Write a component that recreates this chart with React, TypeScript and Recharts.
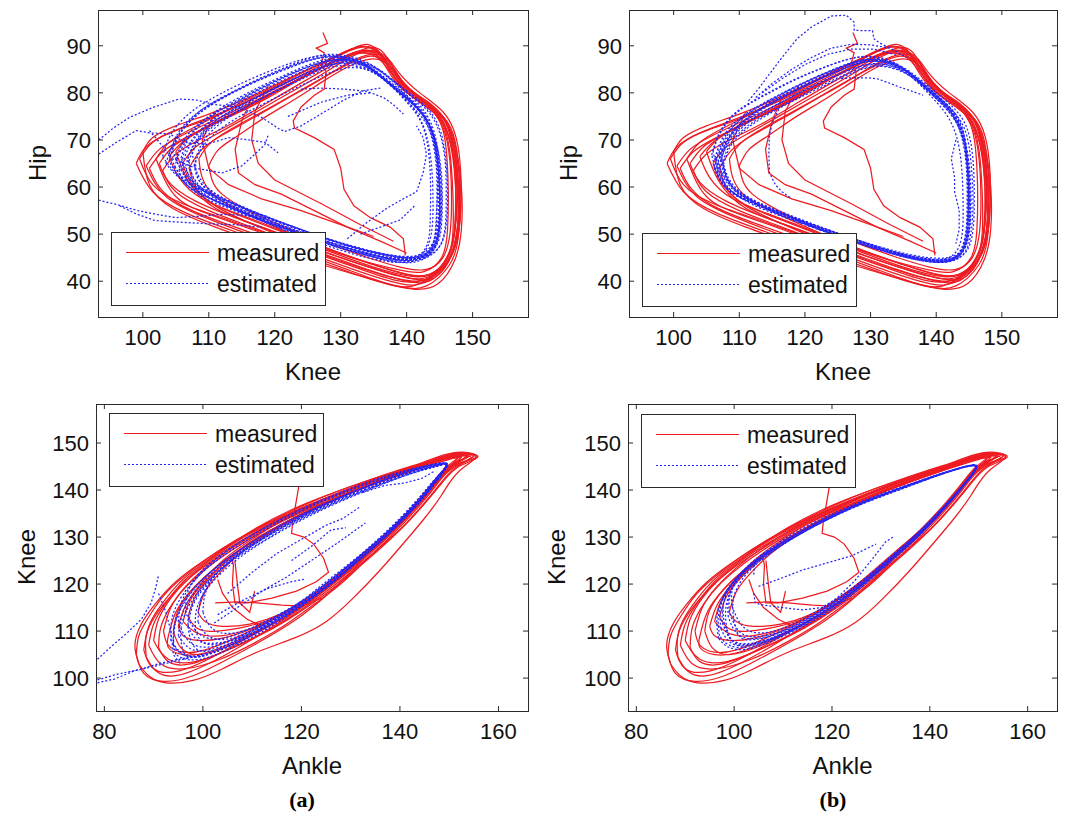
import React from 'react';
import { LineChart, Line, XAxis, YAxis } from 'recharts';

type P = [number, number];

// ---------- tick labels ----------
const kneeTicksTop = [100, 110, 120, 130, 140, 150];
const hipTicks = [40, 50, 60, 70, 80, 90];
const ankleTicks = [80, 100, 120, 140, 160];
const kneeTicksBottom = [100, 110, 120, 130, 140, 150];

// ---------- Hip vs Knee : measured (same in (a) and (b)) ----------
const measuredHipKnee: P[][] = [
  [[99.5,66],[101.5,69.5],[105,72],[110,74.5],[115,78],[120,81.5],[125,85],[129.5,88],[133,89.8],[135.5,89],[137.5,85.5],[140.5,80.5],[144.5,76.5],[146.8,71],[147.8,62],[148,53],[147,46],[144,40.5],[140,40],[134,42.5],[127,46],[120,49.5],[113,53],[106,56.5],[101.5,60.5],[99.5,66]],
  [[102.5,65],[104.5,68.5],[108,71.5],[113,75],[118,78.5],[123,82.5],[128,86],[132.5,88.5],[135.5,88],[137.5,84],[140,80],[143.5,77],[146,72.5],[147.2,64],[147.5,55],[146.8,47],[144.5,42],[141,41],[135,43],[128,46.5],[121,50],[114,53.5],[108,57],[104,61],[102.5,65]],
  [[101,64],[103,67.5],[106.5,70.5],[111.5,74],[117,78],[122.5,82],[127.5,85.8],[132,88.3],[136,87.5],[138,83.5],[141,79],[144.8,75],[146.7,69],[147.6,60],[147.3,51],[146.2,45],[143,40],[139,39.5],[133,42],[126,45.5],[119,49],[112,52.5],[106,56],[102.5,60],[101,64]],
  [[104,66.5],[106,69.5],[109.5,72.5],[114,75.5],[119,79],[124,83],[129,86.5],[133,88.5],[136,87],[138.3,83],[141.5,78.5],[145,74.5],[146.5,68],[147,59],[147,50],[146,44.5],[143.5,41.5],[140,41.5],[134,44],[128,47],[121.5,50.5],[115,54],[109,57.5],[105.5,62],[104,66.5]],
  [[106,65],[108,68.5],[111.5,71.5],[116,75],[121,79],[126,83],[130.5,86.8],[134,88.8],[137,87],[139,83],[142,79],[145.5,75],[147.3,70],[148,61],[147.8,52],[146.8,45.5],[144.5,41],[141,40.5],[135.5,42.5],[129,45.5],[122,49],[116,52.5],[111,56],[107.5,60.5],[106,65]],
  [[100,67.5],[101.5,70.5],[105,73],[110,75.5],[116,79],[122,83],[127.5,86.5],[131.5,89.3],[134.5,89.5],[136.8,86.5],[139,82],[142.5,78],[145.8,74],[147.5,67],[148.2,58],[147.8,49],[146.5,43.5],[143,39],[138.5,39],[132,41.5],[125,44.5],[118,48],[111,51.5],[104.5,55.5],[101,60.5],[100,67.5]],
  [[108.5,66],[110,69],[113,72],[117.5,75.5],[122,79],[127,83],[131,86],[134.5,87.8],[137.2,86],[139.2,82],[142.2,78.5],[145,74],[146,68],[146.3,60],[146.2,51],[145.3,45],[142.5,42],[138.5,42.5],[133,44.5],[127,47.5],[121,51],[115.5,54.5],[111,58],[109,62],[108.5,66]],
  [[103,63.5],[105,67],[108.5,70],[113.5,73.5],[119,78],[124.5,82.5],[129.5,86.5],[134,89.5],[136.5,88.5],[138.3,84.5],[141,80],[144,76.5],[146.3,71],[147.5,63],[147.8,54],[147.2,47],[145,42],[141.5,40],[136,41.5],[129.5,44.5],[123,48],[116.5,51.5],[110,55],[105,59],[103,63.5]],
  [[105,67.5],[107,70.5],[110.5,73.5],[115,76.5],[120.5,80.5],[126,84.5],[131,88],[134.5,89],[137,87.5],[139,84],[142,80],[145.5,76],[147.5,70.5],[148.2,63],[148.2,55],[147.5,48],[145.5,43],[142,40.5],[136.5,42],[130,45],[123.5,48.5],[117,52],[111,55.5],[107,61],[105,67.5]],
  [[100.5,64.5],[102.5,68],[106,71],[111,74.3],[117,78.3],[123,82.5],[128.5,86.3],[132.5,88.8],[135.5,88.5],[137.8,85],[140.5,80.5],[144,77],[146.5,72],[147.6,64],[147.6,55],[146.8,47.5],[144.5,42],[141,39],[137,39.5],[130,43],[123,46.5],[116,50],[109.5,53.5],[103.5,58],[100.5,64.5]],
  [[102,66],[104,69.5],[107.5,72.5],[112.5,76],[118,79.8],[123.5,83.8],[128.5,87.2],[132.5,89.5],[135.3,89.2],[137.5,85.5],[140.3,81],[143.8,77.5],[146.2,73],[147.4,65.5],[147.9,57],[147.4,49],[145.8,43.5],[142.5,40.2],[138,40.3],[131.5,43.3],[124.5,46.8],[117.5,50.5],[110.5,54],[105,58],[102,66]],
  [[107,64],[108.8,67.8],[112,71],[116.5,74.5],[121.5,78.5],[126.5,82.5],[131,86.3],[134.8,88.2],[137.4,86.6],[139.3,82.6],[142.3,78.7],[145.3,75],[146.8,69.5],[147.4,61],[147.3,52],[146.4,45.8],[144,41.8],[140.5,41.3],[135,43.5],[128.5,46.5],[122,50],[115.5,53.5],[110,57],[107.8,60.5],[107,64]],
  [[99,65],[100.5,68.5],[104,71.5],[109,74.2],[115,77.6],[121,81.6],[126.5,85.5],[131,88.8],[134,90.3],[136.3,88],[138.5,83.5],[141.8,79],[145.3,75.3],[147.3,69.3],[148.3,60],[148.3,51],[147.3,44.5],[144.8,39.5],[141,38.3],[135.5,40],[128.5,43.3],[121.5,46.8],[114,50.5],[106.5,54.5],[101.5,59],[99,65]],
  [[110,64.5],[111.5,68],[114.5,71],[118.5,74.8],[123,78.6],[127.5,82.6],[131.5,85.8],[135,87.2],[137.6,85.4],[139.6,81.6],[142.6,78],[145.2,73.6],[146.4,67.5],[146.8,59],[146.6,50.5],[145.5,45],[143,42.5],[139,43],[133.5,45.3],[127.5,48.3],[121.5,51.5],[116,55],[112,58.5],[110.5,61.5],[110,64.5]],
  [[116.5,79],[115,74],[114,68],[114.5,63],[117,60.5],[121,58.5],[126,55],[131,51.5],[136,48.5],[140,46]],
  [[119,81.5],[117,76],[116.5,70],[117.5,65],[120,61.5],[123.5,59],[127,56.5],[133,52],[138,48.5]],
  [[111,76],[109,70],[110,64],[113,60.5],[118,57.5],[124,55],[130,52],[135,49.5]],
  [[127.3,92.8],[128,90.5],[126.3,89.5],[127.5,88.5],[127,86],[127.8,84.5],[127.5,80.8],[126,79.5],[124,77],[122.8,74],[123,72.5],[126,70.5],[129,68],[130,64],[130.5,59.5],[132,56],[134.5,53.5],[137.5,51.5],[139.5,49],[139.8,45.5]],
];

// ---------- Hip vs Knee : estimated (a) ----------
const estimatedHipKneeA: P[][] = [
  [[105,66],[106.5,70.5],[109.5,74.5],[114,78],[119,81.8],[124,85],[128.5,87],[132.5,86.5],[135.5,84],[138.5,80.5],[141.5,77],[143.8,72],[144.8,65],[145,57],[144.8,50],[143.5,46],[140,44.5],[135,45.5],[129,47.8],[123,50.5],[117,53.5],[111,57],[107,61],[105,66]],
  [[106.5,64.5],[107.8,69],[110.8,73.3],[115.2,77.3],[120.2,81],[125,84.3],[129.3,86.2],[133,85.7],[136,83.5],[139,80],[141.8,76.5],[143.7,71],[144.5,64],[144.6,56],[144.3,49.5],[142.8,45.5],[139.5,44],[134,45],[128,47.5],[122,50.5],[116,54],[110.5,57.5],[107.5,61],[106.5,64.5]],
  [[104,67],[105.5,71.8],[108.5,76],[112.8,79.5],[118,83],[123.3,86],[127.8,87.6],[132,87.1],[135,84.8],[138,81.5],[141.2,78],[143.5,73.5],[144.8,66.5],[145.3,58],[145,51],[144,46.5],[141,44],[136,44.8],[130,47],[124,49.8],[118,52.8],[112,56],[107,60],[104,67]],
  [[107,65.5],[108.3,69.5],[111.3,73.5],[115.8,77.2],[120.8,80.7],[125.5,83.8],[129.8,85.8],[133.5,85.2],[136.5,82.8],[139.5,79],[142.2,75],[144,70],[144.7,62],[144.5,54],[144,48],[142,45],[138.5,44.5],[133,46],[127,48.5],[121,51.5],[115.5,54.5],[111,57.5],[108,61],[107,65.5]],
  [[103.5,65],[105,70.2],[108,75],[112.3,79],[117.5,82.6],[122.8,85.6],[127.3,87.5],[131.5,87],[134.8,85],[137.8,81.5],[140.8,78],[143.3,73.5],[144.5,67],[145,59],[144.9,51.5],[143.8,47],[141,45],[136,45.8],[130,48],[124,51],[118,54],[112,57.5],[106.5,61],[103.5,65]],
  [[108,66],[109.3,70],[112.2,74],[116.6,77.8],[121.6,81.5],[126.3,84.6],[130.5,86.6],[134,86],[137,83.5],[140,79.5],[142.5,75.5],[144.2,70.5],[145,63],[145,55],[144.6,49],[143,45.5],[139,44],[134,45.5],[128,48],[122,51],[116.5,54],[111.5,57.5],[108.5,61.5],[108,66]],
  [[105.5,63.5],[106.6,68.2],[109.4,73],[113.8,77.6],[119.2,81.7],[124.4,85.1],[129,87],[133,86.5],[136,84],[139.2,80.3],[142,76],[144,71.5],[145.2,64],[145.4,56],[145.1,50],[143.7,46],[140.5,44.3],[135.5,45],[129.5,47.3],[123.5,50.2],[117.5,53.3],[111.5,56.8],[107,60],[105.5,63.5]],
  [[104.5,68],[106,72.3],[109,76.5],[113.3,80],[118.5,83.5],[123.6,86.3],[128.2,87.8],[132.2,87],[135.2,84.5],[138.2,81],[141,77.5],[143.4,73],[144.6,66],[144.9,58],[144.7,51],[143.4,46.5],[140.3,45],[135.3,46.2],[129.3,48.5],[123.3,51.3],[117.3,54.5],[111.3,58],[106.5,62.5],[104.5,68]],
  [[106,65],[107.5,69.7],[110.5,74.1],[114.9,78.1],[119.9,81.8],[124.8,84.9],[129.1,86.7],[132.8,86.2],[135.8,83.8],[138.8,80.2],[141.6,76.6],[143.8,72],[144.8,65],[145.1,57],[144.9,50.5],[143.6,46.3],[140.2,44.6],[134.8,45.6],[128.8,48],[122.8,50.8],[116.8,53.8],[111,57],[107,60.8],[106,65]],
  [[103,66.5],[104.3,71.3],[107.2,75.8],[111.5,79.6],[116.8,83.2],[122.2,86.2],[127,87.9],[131.3,87.4],[134.6,85.2],[137.7,81.8],[140.7,78.3],[143.2,73.8],[144.4,67.3],[144.8,59.5],[144.7,52],[143.6,47.3],[140.8,45.3],[135.8,46],[129.8,48.2],[123.8,51.1],[117.8,54.3],[111.8,57.8],[106,61.8],[103,66.5]],
  [[107.5,67],[108.8,71],[111.8,74.8],[116.2,78.3],[121.2,81.9],[125.9,84.9],[130.1,86.9],[133.7,86.4],[136.7,84.1],[139.6,80.6],[142.3,76.8],[144.1,72],[145,65],[145.3,57.3],[145,50.8],[143.6,46.4],[140.4,44.8],[135.2,45.9],[129.2,48.3],[123.2,51.2],[117.2,54.3],[111.8,57.9],[108.6,62],[107.5,67]],
  [[104.8,64.2],[106.2,69],[109.2,73.7],[113.6,77.9],[118.7,81.6],[123.8,84.8],[128.4,86.8],[132.4,86.4],[135.4,84.1],[138.5,80.6],[141.4,77.1],[143.6,72.6],[144.7,65.4],[145,57.5],[144.8,50.8],[143.5,46.5],[140.2,45],[135.3,46],[129.4,48.3],[123.4,51.1],[117.4,54.2],[111.6,57.6],[107,61],[104.8,64.2]],
  [[104,65.5],[105.3,70.5],[108.2,75.3],[112.5,79.3],[117.7,83],[123,86.2],[127.6,88.1],[131.8,87.6],[135.2,85.5],[138.5,82],[141.8,78.5],[144.5,74],[145.8,67.5],[146.2,59.5],[146,52],[144.8,47],[141.5,44.8],[136.2,45.3],[130,47.5],[124,50.2],[118,53.2],[112,56.6],[106.8,60.3],[104,65.5]],
  [[107.8,64.5],[109.2,68.8],[112.3,72.9],[116.8,76.6],[121.8,80.1],[126.5,83.2],[130.6,85.2],[134,84.9],[136.8,82.6],[139.5,78.8],[141.8,74.8],[143.1,69.5],[143.6,62],[143.6,54.5],[143.3,48.8],[141.9,45.6],[138.8,45.3],[133.6,46.6],[127.8,49],[121.8,52],[116,55.2],[111.2,58.4],[108.6,61.2],[107.8,64.5]],
  [[105.8,66.2],[107.1,70.8],[110,75],[114.3,78.8],[119.4,82.4],[124.5,85.6],[128.8,87.4],[132.6,86.9],[135.9,84.7],[139.1,81.2],[142.2,77.6],[144.6,73],[145.8,66],[146,58],[145.8,51],[144.5,46.5],[141.2,44.4],[136,45.2],[130.2,47.4],[124.2,50.3],[118.2,53.4],[112.4,56.8],[108,60.6],[105.8,66.2]],
  [[106.8,66],[108.2,70.2],[111.2,74.3],[115.6,77.9],[120.6,81.4],[125.4,84.4],[129.6,86.3],[133.2,85.9],[136.2,83.6],[139,79.9],[141.4,76],[143,71],[143.8,64],[144,56],[143.7,49.8],[142.4,45.9],[139.3,44.7],[134.3,45.9],[128.4,48.3],[122.4,51.2],[116.6,54.3],[111.3,57.6],[108,61.3],[106.8,66]],
  [[93.3,70],[95.5,72.5],[98,74.8],[101.5,76.9],[105.5,78.7],[108,78.5],[111,77.5],[114.5,77],[118,74.8],[120.5,72.5],[121.5,71.8],[124,73],[127,75.5],[130.5,78.5],[133.5,80.5],[136,81]],
  [[93.3,67],[96,69.5],[99,72],[101,71.5],[104,71.3],[106.5,69.5],[109.5,69],[113,70.5],[116,70],[118.5,69.5],[120.5,67.3]],
  [[93.3,57.2],[96,56.3],[99.2,55],[102,54.2],[105,53.5],[108.5,53.8],[112,54.2],[115.5,54],[119,53.2]],
  [[96.5,56],[99,54.3],[101.8,52.9],[106,52.5],[110,52.2],[114,52],[118,51.5]],
  [[124,80.8],[127,81],[130.6,80.8],[134,80.3],[136.5,79],[138,77.5],[139.5,75.5]],
  [[122,75],[124.5,76.5],[127,78],[131,79.5],[134.5,80]],
  [[131,49],[134,52.5],[137,55.5],[139.5,57.5],[141.5,59],[142.5,63],[143,67],[142.5,70.5],[141.5,73]],
  [[133,50],[136,51.5],[139,53],[141.2,56]],
  [[101,72],[102.5,69.5],[104.5,66],[108,64],[112,63],[115,64.5],[117,67],[118.5,69],[119,71]],
];

// ---------- Hip vs Knee : estimated (b) ----------
const estimatedHipKneeB: P[][] = [
  [[106.5,66],[107.8,70.6],[110.6,74.8],[114.9,78.5],[119.9,82.1],[124.9,85.2],[129.2,87],[133,86.4],[136,84],[139,80.5],[141.8,77],[143.8,72],[144.7,65],[145,57],[144.8,50],[143.6,45.5],[140.5,44],[135.5,45],[130,47.2],[124,50],[118,53],[112,56.3],[108,60.5],[106.5,66]],
  [[107,64.5],[108.2,69],[111.1,73.4],[115.5,77.3],[120.5,81],[125.4,84.2],[129.7,86.1],[133.5,85.7],[136.5,83.5],[139.3,80],[142,76.3],[143.8,71],[144.6,64],[144.7,56],[144.4,49.5],[143,45.3],[140,44.3],[134.5,45.5],[128.5,48],[122.5,51],[116.5,54.3],[111,57.7],[108,61.5],[107,64.5]],
  [[106,67.5],[107.3,72],[110,76.2],[114.2,79.7],[119.2,83.2],[124.3,86.1],[128.6,87.7],[132.5,87.1],[135.5,84.7],[138.5,81.2],[141.5,77.6],[143.6,73],[144.9,66],[145.3,58],[145.1,51],[144,46.3],[141,44.5],[136,45.3],[130.5,47.5],[124.5,50.3],[118.5,53.3],[112.5,56.5],[108,60],[106,67.5]],
  [[107.5,65.5],[108.8,69.5],[111.7,73.4],[116.1,77],[121.1,80.6],[125.8,83.7],[130,85.7],[133.5,85.3],[136.5,83.2],[139.5,79.5],[142.2,75.5],[144,70.5],[144.8,63],[144.9,55],[144.6,49],[143.2,45],[139.8,44],[134.8,45.3],[129,47.7],[123,50.6],[117,53.8],[111.5,57.2],[108.5,61],[107.5,65.5]],
  [[106.2,64],[107.4,68.8],[110.2,73.5],[114.5,77.8],[119.6,81.6],[124.7,84.9],[129,86.8],[132.8,86.2],[135.8,83.9],[138.8,80.3],[141.7,76.7],[143.9,72.3],[144.8,65.5],[145.2,57.5],[145,50.5],[143.8,45.8],[140.8,44.2],[135.8,45.2],[130.2,47.4],[124.2,50.2],[118.2,53.2],[112.2,56.6],[107.8,60.2],[106.2,64]],
  [[107,67],[108.3,71.3],[111.1,75.4],[115.4,79],[120.4,82.5],[125.3,85.4],[129.5,87.1],[133.2,86.5],[136.2,84],[139.2,80.6],[142,77],[143.9,72.5],[144.9,65.5],[145.1,57.5],[144.9,50.8],[143.7,46],[140.6,44.6],[135.6,45.6],[130,47.8],[124,50.7],[118,53.7],[112.3,57],[108.4,61],[107,67]],
  [[106.8,65.2],[108.1,69.8],[110.9,74.2],[115.2,78.1],[120.2,81.7],[125.2,84.8],[129.4,86.7],[133,86.4],[136,84.2],[139,80.8],[141.9,77.2],[143.9,72.8],[144.7,65.8],[144.9,57.8],[144.6,50.6],[143.4,45.6],[140.3,44.3],[135.2,45.3],[129.7,47.6],[123.7,50.5],[117.7,53.5],[111.8,56.9],[108.2,60.8],[106.8,65.2]],
  [[107.3,66.5],[108.6,70.8],[111.4,74.9],[115.7,78.4],[120.7,81.9],[125.6,84.9],[129.8,86.7],[133.3,86],[136.3,83.8],[139.2,80.2],[141.9,76.5],[143.9,71.6],[144.8,64.5],[145,56.5],[144.7,50.2],[143.5,45.8],[140.2,44.5],[135,45.7],[129.5,48],[123.5,50.9],[117.5,54],[111.8,57.3],[108.4,61.2],[107.3,66.5]],
  [[105.8,66.8],[107,71.6],[109.6,76],[113.8,79.6],[118.8,83.1],[124,86],[128.4,87.6],[132.3,87],[135.4,84.6],[138.4,81],[141.3,77.5],[143.5,73],[144.7,66.3],[145.1,58.3],[145,51.2],[143.9,46.6],[141,44.9],[136.2,45.6],[130.7,47.6],[124.7,50.3],[118.7,53.2],[112.7,56.3],[107.9,59.9],[105.8,66.8]],
  [[107.6,64.8],[108.9,69.2],[111.9,73.2],[116.3,76.9],[121.3,80.4],[126,83.5],[130.2,85.5],[133.7,85.1],[136.7,82.9],[139.6,79.3],[142.3,75.3],[144.1,70.3],[144.7,63.3],[144.8,55.3],[144.5,49.2],[143.1,45.2],[139.9,44.3],[134.9,45.6],[129.2,48.1],[123.2,51.1],[117.2,54.3],[111.7,57.6],[108.7,61.1],[107.6,64.8]],
  [[106.3,66.2],[107.6,70.8],[110.4,75],[114.7,78.6],[119.8,82.2],[124.9,85.3],[129.1,87.1],[132.9,86.6],[136.1,84.4],[139.3,80.9],[142.3,77.3],[144.6,72.8],[145.6,65.8],[145.8,57.8],[145.6,50.8],[144.4,46],[141.2,44.2],[136,45],[130.3,47.2],[124.3,50],[118.3,53],[112.3,56.4],[107.9,60.4],[106.3,66.2]],
  [[107.2,65.8],[108.5,70],[111.4,74],[115.8,77.6],[120.8,81.1],[125.6,84.1],[129.8,86],[133.4,85.6],[136.3,83.3],[139,79.6],[141.4,75.7],[143.1,70.7],[143.9,63.7],[144.1,55.7],[143.9,49.6],[142.6,45.6],[139.5,44.6],[134.5,45.8],[128.7,48.2],[122.7,51.1],[116.8,54.2],[111.5,57.5],[108.3,61.2],[107.2,65.8]],
  [[106.6,64.6],[107.9,69.3],[110.8,73.8],[115.1,77.8],[120.1,81.5],[125.1,84.7],[129.3,86.6],[133.1,86.2],[136.2,84],[139.2,80.5],[142,76.9],[144.3,72.4],[145.3,65.2],[145.6,57.2],[145.3,50.3],[144.1,45.7],[140.9,44],[135.7,45.1],[130,47.4],[124,50.2],[118,53.2],[112,56.6],[107.6,60.4],[106.6,64.6]],
  [[111.4,78.3],[113,81],[114.6,84],[116.5,87.5],[118.8,91.5],[121,94],[124,96.3],[126.3,96.5],[127.5,95],[127.5,93.3],[129,93.2],[130.3,93.2],[130.5,91.5],[131.5,90.5],[133,89.5]],
  [[112.5,79],[115,82],[118,85],[121,87.5],[124,89.5],[127,90.3],[130,90.2],[133,89.5],[135.5,87.5]],
  [[113.5,80],[116.5,83],[120,86],[123.5,88.2],[127,89.3],[130.5,89.3],[134,88]],
  [[125.5,83],[127,83.2],[129.5,83.2],[131,83],[133,82],[134.5,81.2],[136,80.5],[138,79.5]],
  [[116,76.5],[115,73.5],[114.6,71],[114.5,67],[114.6,63],[115.5,60.5],[116.5,59],[118,57.5]],
  [[143,70],[142.3,66],[142.8,62],[142.8,59],[143.5,55],[143.5,51],[143,48]],
];

// ---------- Knee vs Ankle : measured (same in (a) and (b)) ----------
const measuredKneeAnkle: P[][] = [
  [[86.5,105],[87,109],[89,113],[92,117.5],[96,121.5],[101,125.5],[107,129.5],[114,133.5],[121,137],[128,140],[135,142.5],[142,144.8],[148,146.8],[152,147.8],[155.5,147],[151.5,145.5],[148,142.5],[144.5,138],[140,133],[135,128],[130,122.5],[125,117.5],[119,112.5],[112,108],[105,104],[98,100.5],[92,99.3],[88,101],[86.5,105]],
  [[92,110],[93.5,115],[96.5,119.5],[100.5,123.5],[105.5,127.5],[111.5,131.5],[118,135],[125,138.3],[132,141],[139,143.5],[145,145.5],[150,147],[154,147.2],[150.5,145.5],[147,142],[143,137],[138.5,132],[134,127.5],[129,123],[124,119],[118.5,115],[112.5,111.5],[106.5,108.5],[100.5,106],[96,105.5],[93,107],[92,110]],
  [[88,106],[89,111],[91.5,115.5],[95,120],[99.5,124],[105,128],[111,132],[118,135.8],[125,138.8],[132,141.5],[139,144],[145,146],[150.5,147.8],[155,147.3],[151,145],[147,141],[143,136],[138.5,131],[133.5,126.5],[128,121.5],[122.5,117],[116,112.5],[109,108.5],[102,104.5],[95,101.5],[90,102],[88,106]],
  [[95,111],[96.5,115.5],[99.5,120],[103.5,124.5],[108.5,128.5],[114.5,132.5],[121,136],[128,139.2],[135,142],[142,144.5],[148,146.5],[152.5,147.5],[149.5,145],[146,140.5],[142,135.5],[137.5,131],[132.5,126.5],[127.5,122],[122,117.5],[116,113.5],[110,110.5],[104,108.5],[99,108],[96,109],[95,111]],
  [[90,108],[91,112.5],[93.5,117],[97,121],[102,125],[108,129],[114.5,132.8],[121.5,136.3],[128.5,139.5],[135.5,142.2],[142.5,144.8],[148.5,146.8],[153,147.8],[155.8,147],[152,145],[148.5,141.5],[144.5,136.5],[140,131.5],[135,127],[130,122.5],[124.5,118],[118.5,113.5],[112,109.5],[105,106],[98.5,103.5],[93,104],[90,108]],
  [[97,113],[98.5,117.5],[101.5,121.5],[105.5,125.5],[110.5,129.5],[116.5,133],[123,136.5],[130,139.7],[137,142.5],[143.5,144.8],[149,146.5],[151.5,146.5],[148.5,143.5],[145,139],[141,134],[136.5,129.5],[131.5,125],[126.5,120.5],[121,116.5],[115,113],[109,111],[103,110],[99,110.5],[97,113]],
  [[87,103],[86.2,107],[87.5,111.5],[90.5,116],[94.5,120.5],[99.5,124.5],[105.5,128.5],[112.5,132.5],[119.5,136],[126.5,139],[133.5,141.8],[140.5,144.3],[147,146.5],[151.5,148],[155.5,147.2],[152,144],[148.5,139],[145,134],[141,129],[136,123],[130.5,117],[125,112],[118.5,108.5],[111,105.5],[104,102],[98,99.5],[92.5,99],[89,100.5],[87,103]],
  [[93,109],[94.5,114],[97.5,118.5],[101.5,122.5],[106.5,126.5],[112.5,130.5],[119,134.3],[126,137.7],[133,140.7],[140,143.3],[146,145.5],[150.5,147.3],[154.5,147.5],[151,145.5],[147.5,141.5],[143.5,136.5],[139,131.5],[134.5,127],[129.5,122.5],[124.5,118.5],[119,114.5],[113,111],[107,108],[101,105.5],[96,105],[93,106.5],[93,109]],
  [[89,107],[90,111.5],[92.5,116],[96,120.5],[100.5,124.5],[106,128.5],[112.5,132.3],[119.5,135.8],[126.5,138.8],[133.5,141.5],[140.5,144],[146.5,146.2],[151,147.5],[154.5,146.8],[150.5,144.5],[147,140.5],[143,135.5],[138.5,130.5],[133.5,125.5],[128.5,120.5],[123,116],[117,111.5],[110.5,107.5],[103.5,104],[96.5,102],[91.5,103],[89,107]],
  [[99,114],[100.5,118.5],[103.5,122.5],[107.5,126.5],[112.5,130.2],[118.5,133.8],[125,137],[132,140.2],[139,143],[145,145.2],[149.5,146.7],[152.5,147],[149,144],[145.5,139.5],[141.5,134.5],[137,130],[132,125.5],[127,121],[121.5,117],[115.5,113.5],[109.5,111.5],[104,111],[100.5,112],[99,114]],
  [[88.5,104.5],[88.5,109],[90.5,113.5],[94,118],[98.5,122.5],[104,126.8],[110.5,130.8],[117.5,134.6],[124.5,137.9],[131.5,140.8],[138.5,143.4],[145,145.8],[150,147.4],[154,147.6],[150.3,145],[146.5,141],[142.5,136],[138,131],[133,126],[127.5,121],[121.5,116],[115,111.5],[108,107],[101,103],[94.5,100.5],[90.5,101.5],[88.5,104.5]],
  [[94,110],[95,114.5],[98,119],[102,123],[107,127],[113,131],[119.5,134.6],[126.5,137.9],[133.5,140.8],[140.5,143.4],[146.5,145.6],[151,147],[153.5,147],[150,144.5],[146.5,140.5],[142.5,135.5],[138,130.5],[133,126],[128,121.5],[122.5,117],[116.5,113],[110.5,109.5],[104.5,106.5],[99,105],[95.5,106.5],[94,110]],
  [[91,106.5],[91.5,111],[93.8,115.8],[97.3,120.2],[102,124.4],[107.8,128.5],[114.3,132.4],[121.3,135.9],[128.3,139],[135.3,141.8],[142.3,144.3],[148,146.3],[152.5,147.6],[155,147.2],[151.2,144.7],[147.7,140.7],[143.7,135.7],[139.2,130.7],[134.2,125.9],[129,121.3],[123.5,116.8],[117.5,112.6],[111,108.8],[104,105.5],[97.5,103],[93,103.5],[91,106.5]],
  [[96,112],[97.3,116.3],[100.3,120.5],[104.3,124.5],[109.3,128.4],[115.3,132.2],[121.8,135.6],[128.8,138.9],[135.8,141.6],[142.6,144.1],[148.3,146],[152.3,146.9],[149.1,144],[145.6,139.7],[141.6,134.8],[137.1,130.2],[132.1,125.7],[127.1,121.3],[121.6,117],[115.6,113.2],[109.6,110.5],[103.6,109],[98.8,109.6],[96,112]],
  [[119.5,141],[118.2,133],[118,130.8],[120.5,130],[122.5,128.5],[124.5,125.5],[125.5,122.5],[123,120.5],[119,118.5],[114,117],[109,116],[106.5,116],[106,120],[106.2,124],[105.8,126]],
  [[102.5,116],[107,116.2],[111,116],[116,115.5],[120,115.3],[124,117]],
  [[103,121],[104,118],[106,115],[109,112.5],[112,111]],
  [[106.5,125],[107,120],[107.5,116],[109.5,114],[110.5,118.5]],
];

// ---------- Knee vs Ankle : estimated (a) ----------
const estimatedKneeAnkleA: P[][] = [
  [[95,109],[96,114],[98.5,118.5],[102,122.5],[107,126.5],[113,130.5],[120,134.5],[127,138],[134,141],[141,143.5],[146.5,145],[149.5,145.5],[148,142.5],[145,139],[141,134.5],[136.5,130],[131.5,125.5],[126.5,121],[121,116.5],[115,112.5],[109,109],[103,106.5],[98,106],[95,109]],
  [[97,111],[98,115.5],[100.5,119.5],[104,123.5],[109,127.5],[115,131.3],[121.5,135],[128.5,138.3],[135.5,141.2],[142,143.7],[147,145],[149.7,145.3],[147.5,142],[144.5,138],[140.5,133.5],[136,129],[131,124.5],[126,120.2],[120.5,116],[114.5,112.2],[108.5,109],[103,107.5],[99,108],[97,111]],
  [[94,107],[94.5,112],[96.5,116.5],[100,121],[104.5,125],[110.5,129.3],[117.5,133.5],[124.5,137],[131.5,140],[138.5,142.8],[144.5,144.8],[149.3,145.6],[147.3,142.5],[144,138.5],[140,134],[135.5,129.5],[130.5,125],[125,120.5],[119.5,116],[113.5,112],[107.5,108.5],[101.5,105.5],[96.5,104.8],[94,107]],
  [[99,112],[99.5,116.5],[101.5,120.5],[105,124.5],[110,128.3],[116,132],[122.5,135.5],[129.5,138.8],[136.5,141.6],[142.8,144],[147.5,145.2],[149.6,145.4],[147.6,142.3],[144.6,138.3],[140.6,133.8],[136.2,129.3],[131.2,124.8],[126.2,120.5],[120.7,116.3],[114.7,112.5],[108.7,109.5],[103.7,108.2],[100.5,109.5],[99,112]],
  [[96,105.5],[95.5,110],[97,115],[100,119.5],[104,123.5],[109.5,127.8],[116,132],[123,136],[130,139.3],[137,142.2],[143,144.3],[148,145.4],[149.6,145.3],[147.2,142],[144.2,138],[140.2,133.3],[135.7,128.8],[130.7,124.3],[125.5,119.8],[120,115.5],[114,111.5],[108,108],[102,105.3],[98,104.5],[96,105.5]],
  [[100,114],[100.5,118],[102.5,122],[106,125.5],[111,129],[117,132.5],[123.5,135.8],[130.5,139],[137.5,141.8],[143.5,144.1],[148,145.3],[149.5,145.5],[147.8,142.7],[145,139],[141,134.5],[136.5,130],[131.5,125.5],[126.5,121.3],[121,117],[115,113.3],[109.5,110.5],[104.5,109.5],[101.5,111],[100,114]],
  [[97.5,108],[97,112.5],[98.5,117],[101.5,121],[106,125],[112,129],[118.5,133],[125.5,136.6],[132.5,139.7],[139.5,142.5],[145.5,144.6],[149.4,145.5],[147.4,142.2],[144.3,138.2],[140.3,133.6],[135.9,129.1],[130.9,124.6],[125.9,120.1],[120.4,115.8],[114.4,111.8],[108.4,108.3],[102.5,106],[99,106],[97.5,108]],
  [[93.5,108],[93.8,113],[95.8,117.5],[99.2,121.8],[103.8,125.8],[109.8,129.8],[116.6,133.8],[123.6,137.2],[130.6,140.2],[137.6,142.9],[143.8,144.8],[149.2,145.6],[147.2,142.4],[144,138.4],[140,133.9],[135.5,129.3],[130.5,124.8],[125.3,120.3],[119.8,115.9],[113.8,111.9],[107.8,108.2],[101.8,105.3],[96.8,104.6],[93.5,108]],
  [[98.5,110],[98.7,114.5],[100.7,118.8],[104.2,122.8],[109,126.8],[115,130.7],[121.5,134.4],[128.5,137.8],[135.5,140.8],[142,143.4],[147.2,144.9],[149.6,145.3],[147.7,142.2],[144.7,138.3],[140.7,133.8],[136.2,129.3],[131.2,124.7],[126.2,120.3],[120.7,116],[114.7,112.1],[108.7,109],[103.2,107.3],[100,107.6],[98.5,110]],
  [[95,112],[95.8,116.5],[98.3,120.7],[102,124.6],[107,128.5],[113,132.2],[119.7,135.8],[126.7,139],[133.7,141.8],[140.5,144],[146,145.3],[149.5,145.5],[147.5,142.6],[144.4,138.6],[140.4,134.1],[135.9,129.6],[130.9,125.1],[125.7,120.7],[120.2,116.3],[114.2,112.5],[108.2,109.2],[102.2,106.8],[97.5,107.5],[95,112]],
  [[96.5,114],[97,118.5],[99.3,122.3],[103,125.8],[108,129.3],[114,132.8],[120.7,136.2],[127.7,139.2],[134.7,141.9],[141.2,144],[146.5,145.3],[149.6,145.5],[147.6,142.8],[144.6,138.8],[140.6,134.3],[136.1,129.8],[131.1,125.3],[126,121],[120.5,116.7],[114.5,113],[108.5,110],[102.8,108.3],[98.8,109.8],[96.5,114]],
  [[94.5,105],[94,109.5],[95.3,114.5],[98.3,119.2],[102.5,123.4],[108,127.6],[114.8,131.8],[121.8,135.6],[128.8,138.9],[135.8,141.9],[142.3,144.2],[147.6,145.4],[149.5,145.4],[147.1,141.8],[143.9,137.7],[139.9,133],[135.4,128.4],[130.4,123.8],[125.2,119.3],[119.7,115],[113.7,110.9],[107.7,107.4],[101.7,104.6],[97.2,103.9],[94.5,105]],
  [[78.6,104],[81.5,106.8],[84.5,109.5],[87.5,112.5],[89.5,116],[90.5,119.5],[91,122]],
  [[78.6,99],[82,99.8],[86,101.5],[90,102.5],[94,103.5],[98,104.5],[102,105.5],[106,107]],
  [[78.6,99.6],[82.5,100.8],[87,101.8],[91.5,103.2],[96,104.2],[100.5,104.8]],
  [[102.3,111.7],[107,115],[112,118.5],[117,121.5],[122,125],[127,128.5],[131,131.5],[133,133]],
  [[103,113.5],[108,116.5],[113,119],[118,120.5],[120.5,121]],
  [[105,118],[110,122.5],[115,126.5],[120,129.5],[125,132.5],[128.5,134],[132,136.5]],
  [[118,125],[122,128],[126,131.5],[129,132]],
  [[132.5,139.5],[137,141],[141,141.5],[144.5,142.5],[147,144]],
  [[91,118],[92.5,114],[93.5,110],[94,105],[95.5,103]],
];

// ---------- Knee vs Ankle : estimated (b) ----------
const estimatedKneeAnkleB: P[][] = [
  [[97.5,112],[98,116.5],[100,120.5],[103.5,124],[108.5,127.8],[114.5,131.5],[121,134.8],[128,137.8],[135,140.5],[141.5,143],[146.5,144.7],[149.5,145],[148,142.3],[145.2,138.7],[141.3,134.2],[136.8,129.6],[131.8,125],[126.8,120.5],[121.3,116.2],[115.3,112.3],[109.3,109.2],[103.5,107.4],[99.5,108.2],[97.5,112]],
  [[98.5,110.5],[98.3,115],[99.8,119.3],[103,123],[107.8,126.9],[113.8,130.8],[120.3,134.3],[127.3,137.5],[134.3,140.3],[141,142.9],[146.3,144.7],[149.6,145.1],[147.8,142],[144.9,138.3],[141,133.8],[136.5,129.2],[131.5,124.6],[126.5,120.1],[121,115.8],[115,111.9],[109,108.8],[103.3,107],[100,107.5],[98.5,110.5]],
  [[99,114],[99.2,118],[101.2,121.8],[104.8,125.3],[109.8,128.9],[115.8,132.4],[122.3,135.6],[129.3,138.6],[136.3,141.2],[142.3,143.4],[147,144.9],[149.5,145.1],[147.9,142.5],[145.1,139],[141.2,134.6],[136.7,130],[131.7,125.4],[126.7,121],[121.2,116.7],[115.2,112.8],[109.7,110],[104.5,108.8],[101,110],[99,114]],
  [[97,109],[96.8,113.5],[98.2,118],[101.3,122],[106,125.8],[112,129.8],[118.5,133.5],[125.5,137],[132.5,139.9],[139.5,142.5],[145.5,144.5],[149.4,145.1],[147.6,142],[144.6,138.2],[140.7,133.5],[136.3,128.9],[131.3,124.3],[126.3,119.8],[120.8,115.4],[114.8,111.6],[108.8,108.6],[103,106.6],[99,107],[97,109]],
  [[100,112],[99.8,116.5],[101.4,120.6],[104.6,124.3],[109.4,128],[115.3,131.7],[121.8,135.1],[128.8,138.2],[135.8,140.9],[142,143.2],[146.8,144.8],[149.6,145.2],[148,142.4],[145.1,138.8],[141.2,134.4],[136.7,129.8],[131.7,125.2],[126.7,120.7],[121.2,116.4],[115.2,112.6],[109.4,109.6],[104.2,108.2],[101.2,108.8],[100,112]],
  [[98,111.5],[97.8,116],[99.5,120],[102.8,123.7],[107.6,127.4],[113.6,131.1],[120.1,134.6],[127.1,137.7],[134.1,140.4],[140.8,142.9],[146.1,144.6],[149.5,145],[147.7,142.1],[144.8,138.5],[140.9,134],[136.4,129.4],[131.4,124.8],[126.4,120.3],[120.9,116],[114.9,112.1],[108.9,109],[103.2,107.2],[99.5,108],[98,111.5]],
  [[98.8,113],[98.9,117.3],[100.8,121.2],[104.3,124.8],[109.1,128.4],[115.1,132],[121.6,135.3],[128.6,138.4],[135.6,141],[141.9,143.3],[146.8,144.9],[149.5,145.1],[147.9,142.4],[145,138.9],[141.1,134.5],[136.6,129.9],[131.6,125.3],[126.6,120.8],[121.1,116.5],[115.1,112.6],[109.5,109.8],[104.2,108.4],[100.6,109.5],[98.8,113]],
  [[97.3,110.5],[97.2,115],[98.8,119.2],[102.2,123],[107,126.8],[113,130.6],[119.5,134.1],[126.5,137.3],[133.5,140.2],[140.3,142.8],[145.9,144.6],[149.5,145],[147.7,142.2],[144.8,138.4],[140.9,133.9],[136.4,129.3],[131.4,124.7],[126.4,120.2],[120.9,115.9],[114.9,112],[108.9,108.9],[103.1,106.9],[99.2,107.6],[97.3,110.5]],
  [[99.5,115.5],[99.7,119.2],[101.7,122.7],[105.3,126],[110.1,129.5],[116.1,133],[122.6,136.1],[129.6,139],[136.6,141.5],[142.6,143.6],[147.2,145],[149.5,145.2],[148,142.6],[145.2,139.1],[141.3,134.8],[136.8,130.2],[131.8,125.7],[126.8,121.3],[121.3,117.1],[115.3,113.3],[110,110.6],[105,109.6],[101.5,111.3],[99.5,115.5]],
  [[96.8,108.5],[96.5,113],[97.9,117.5],[101,121.6],[105.6,125.5],[111.6,129.5],[118.1,133.2],[125.1,136.8],[132.1,139.7],[139.1,142.3],[145.2,144.4],[149.3,145],[147.5,141.9],[144.5,138],[140.6,133.3],[136.2,128.6],[131.2,124],[126.2,119.5],[120.7,115.1],[114.7,111.3],[108.7,108.3],[102.8,106.2],[98.8,106.6],[96.8,108.5]],
  [[104,118],[104.3,116],[106,115.5],[110,115],[114,114.5],[118,115],[121,117],[124.5,120.5],[128,125],[131,129],[132.5,130]],
  [[104,122],[104.2,124.5],[106,126.5],[109,128]],
  [[105,119.5],[109,121],[114,123],[119,124.5],[124,126],[129,128.5]],
];

// ---------- styling ----------
const FONT = '"Liberation Sans", Arial, Helvetica, sans-serif';
const RED = '#ee1c22';
const BLUE = '#2424f4';
const AX = '#2a2a2a';
const YW = 100;
const MT = 10;
const MR = 10;
const XH = 70;

interface PanelProps {
  left: number; top: number; w: number; h: number;
  xDomain: [number, number]; yDomain: [number, number];
  xTicks: number[]; yTicks: number[];
  measured: P[][]; estimated: P[][];
  xLabel: string; yLabel: string; yLabelX: number;
  legendTop: number;
}

const toPts = (loop: P[]) => loop.map(([x, y]) => ({ x, y }));

function Panel(p: PanelProps) {
  const chartW = YW + p.w + MR;
  const chartH = MT + p.h + XH;
  const bottomY = MT + p.h;
  const XTick = (tp: any) => {
    const x = tp.x;
    return (
      <g>
        <line x1={x} x2={x} y1={bottomY} y2={bottomY - 5} stroke={AX} strokeWidth={1} />
        <line x1={x} x2={x} y1={MT} y2={MT + 5} stroke={AX} strokeWidth={1} />
        <text x={x} y={bottomY + 28} textAnchor="middle" fontSize={22} fontFamily={FONT} fill="#111">
          {tp.payload.value}
        </text>
      </g>
    );
  };
  const YTick = (tp: any) => {
    const y = tp.y;
    return (
      <g>
        <line x1={YW} x2={YW + 5} y1={y} y2={y} stroke={AX} strokeWidth={1} />
        <line x1={YW + p.w} x2={YW + p.w - 5} y1={y} y2={y} stroke={AX} strokeWidth={1} />
        <text x={YW - 7} y={y + 8} textAnchor="end" fontSize={22} fontFamily={FONT} fill="#111">
          {tp.payload.value}
        </text>
      </g>
    );
  };
  return (
    <>
      <div style={{ position: 'absolute', left: p.left - YW, top: p.top - MT }}>
        <LineChart width={chartW} height={chartH} margin={{ top: MT, right: MR, left: 0, bottom: 0 }}>
          <XAxis
            type="number"
            dataKey="x"
            domain={p.xDomain}
            ticks={p.xTicks}
            allowDataOverflow
            height={XH}
            tickSize={0}
            tickLine={false}
            axisLine={false}
            tick={XTick}
            interval={0}
          />
          <YAxis
            type="number"
            dataKey="y"
            domain={p.yDomain}
            ticks={p.yTicks}
            allowDataOverflow
            width={YW}
            tickSize={0}
            tickLine={false}
            axisLine={false}
            tick={YTick}
            interval={0}
          />
          {p.measured.map((loop, i) => (
            <Line
              key={'m' + i}
              data={toPts(loop)}
              dataKey="y"
              type={loop.length > 20 ? 'natural' : 'linear'}
              stroke={RED}
              strokeWidth={1.25}
              dot={false}
              activeDot={false}
              isAnimationActive={false}
            />
          ))}
          {p.estimated.map((loop, i) => (
            <Line
              key={'e' + i}
              data={toPts(loop)}
              dataKey="y"
              type={loop.length > 20 ? 'natural' : 'linear'}
              stroke={BLUE}
              strokeWidth={1.25}
              strokeDasharray="2 2"
              dot={false}
              activeDot={false}
              isAnimationActive={false}
            />
          ))}
        </LineChart>
      </div>
      <div
        style={{
          position: 'absolute', left: p.left, top: p.top, width: p.w + 1, height: p.h + 1,
          border: `1px solid ${AX}`, boxSizing: 'border-box', pointerEvents: 'none',
        }}
      />
      <div
        style={{
          position: 'absolute', left: Math.round(p.left + 13), top: Math.round(p.legendTop), width: 215, height: 74,
          border: `1px solid ${AX}`, boxSizing: 'border-box', background: '#fff',
        }}
      >
        <svg width={215} height={74} style={{ position: 'absolute', left: -1, top: -1 }}>
          <line x1={15} x2={98} y1={20.5} y2={20.5} stroke={RED} strokeWidth={1} />
          <line x1={15} x2={98} y1={51.5} y2={51.5} stroke={BLUE} strokeWidth={1} strokeDasharray="2 2" />
          <text x={106} y={29} fontSize={23} fontFamily={FONT} fill="#111">measured</text>
          <text x={106} y={60} fontSize={23} fontFamily={FONT} fill="#111">estimated</text>
        </svg>
      </div>
      <div
        style={{
          position: 'absolute', left: p.left + p.w / 2, top: p.top + p.h + 55.5,
          transform: 'translate(-50%, -50%)', fontFamily: FONT, fontSize: 24, lineHeight: 1,
          whiteSpace: 'nowrap', color: '#111',
        }}
      >
        {p.xLabel}
      </div>
      <div
        style={{
          position: 'absolute', left: p.yLabelX, top: p.top + p.h / 2,
          transform: 'translate(-50%, -50%) rotate(-90deg)', fontFamily: FONT, fontSize: 24, lineHeight: 1,
          whiteSpace: 'nowrap', color: '#111',
        }}
      >
        {p.yLabel}
      </div>
    </>
  );
}

export default function App() {
  return (
    <div style={{ position: 'absolute', left: 0, top: 0, width: 1070, height: 815, background: '#fff', overflow: 'hidden' }}>
      <Panel
        left={98} top={9.5} w={430} h={307}
        xDomain={[93.2, 158.4]} yDomain={[32.4, 97.6]}
        xTicks={kneeTicksTop} yTicks={hipTicks}
        measured={measuredHipKnee} estimated={estimatedHipKneeA}
        xLabel="Knee" yLabel="Hip" yLabelX={38} legendTop={232}
      />
      <Panel
        left={629} top={9.5} w={428} h={307}
        xDomain={[93.2, 158.4]} yDomain={[32.4, 97.6]}
        xTicks={kneeTicksTop} yTicks={hipTicks}
        measured={measuredHipKnee} estimated={estimatedHipKneeB}
        xLabel="Knee" yLabel="Hip" yLabelX={569} legendTop={233}
      />
      <Panel
        left={96} top={403.5} w={432} h={307}
        xDomain={[78.3, 166]} yDomain={[93, 158.3]}
        xTicks={ankleTicks} yTicks={kneeTicksBottom}
        measured={measuredKneeAnkle} estimated={estimatedKneeAnkleA}
        xLabel="Ankle" yLabel="Knee" yLabelX={27} legendTop={413}
      />
      <Panel
        left={628} top={403.5} w={429} h={307}
        xDomain={[78.3, 166]} yDomain={[93, 158.3]}
        xTicks={ankleTicks} yTicks={kneeTicksBottom}
        measured={measuredKneeAnkle} estimated={estimatedKneeAnkleB}
        xLabel="Ankle" yLabel="Knee" yLabelX={557} legendTop={414}
      />
      <div style={{ position: 'absolute', left: 302, top: 800, transform: 'translate(-50%, -50%)', fontFamily: '"Liberation Serif", "Times New Roman", serif', fontWeight: 'bold', fontSize: 22, lineHeight: 1 }}>
        (a)
      </div>
      <div style={{ position: 'absolute', left: 833, top: 800, transform: 'translate(-50%, -50%)', fontFamily: '"Liberation Serif", "Times New Roman", serif', fontWeight: 'bold', fontSize: 22, lineHeight: 1 }}>
        (b)
      </div>
    </div>
  );
}
